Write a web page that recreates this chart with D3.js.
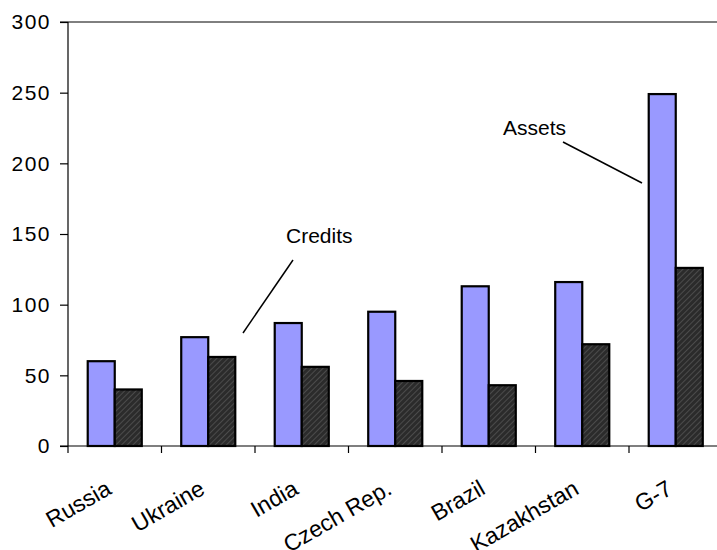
<!DOCTYPE html>
<html>
<head>
<meta charset="utf-8">
<script src="https://cdn.jsdelivr.net/npm/d3@7/dist/d3.min.js"></script>
<style>
  html, body { margin: 0; padding: 0; background: #fff; }
  svg { display: block; font-family: Arial, "Liberation Sans", sans-serif; }
</style>
</head>
<body>
<svg id="chart" width="717" height="550"></svg>
<script>
// Countries compared
const categories = ["Russia", "Ukraine", "India", "Czech Rep.", "Brazil", "Kazakhstan", "G-7"];
// Assets (light bars) and credits (hatched bars)
const assets  = [60, 77, 87, 95, 113, 116, 249];
const credits = [40, 63, 56, 46, 43, 72, 126];
const yTicks  = [0, 50, 100, 150, 200, 250, 300];
const seriesNames = ["Assets", "Credits"];

(function drawChart() {
  const svg = d3.select("#chart");
  const plotLeft = 68, plotTop = 22, plotBottom = 446, step = 93.5;
  const plotRight = plotLeft + step * categories.length;

  const y = d3.scaleLinear().domain([0, 300]).range([plotBottom, plotTop]);
  const x = d3.scaleBand().domain(categories).range([plotLeft, plotRight]).padding(0);
  const xs = d3.scaleBand().domain(seriesNames).range([0, x.bandwidth()])
    .paddingInner(0).paddingOuter(0.73);

  // hatch pattern for the credits bars
  const defs = svg.append("defs");
  const pat = defs.append("pattern")
    .attr("id", "hatch").attr("patternUnits", "userSpaceOnUse")
    .attr("width", 4).attr("height", 4)
    .attr("patternTransform", "rotate(45)");
  pat.append("rect").attr("width", 4).attr("height", 4).attr("fill", "#2b2b2b");
  pat.append("line").attr("x1", 0).attr("y1", 0).attr("x2", 0).attr("y2", 4)
    .attr("stroke", "#595959").attr("stroke-width", 1.4);

  // top border of plot area
  svg.append("line")
    .attr("x1", plotLeft - 8).attr("x2", 717).attr("y1", y(300)).attr("y2", y(300))
    .attr("stroke", "#000").attr("stroke-width", 1);

  // bars
  const rows = categories.map((c, i) => ({ c, vals: [assets[i], credits[i]] }));
  const groups = svg.append("g").selectAll("g").data(rows).join("g")
    .attr("transform", d => `translate(${x(d.c)},0)`);
  groups.selectAll("rect")
    .data(d => d.vals.map((v, j) => ({ s: seriesNames[j], v })))
    .join("rect")
    .attr("x", d => xs(d.s))
    .attr("width", xs.bandwidth())
    .attr("y", d => y(d.v))
    .attr("height", d => y(0) - y(d.v))
    .attr("fill", d => d.s === "Assets" ? "#9999ff" : "url(#hatch)")
    .attr("stroke", "#000").attr("stroke-width", 2.2);

  // y axis
  const yAxis = svg.append("g").attr("transform", `translate(${plotLeft},0)`)
    .call(d3.axisLeft(y).tickValues(yTicks).tickSize(8).tickPadding(9).tickFormat(d3.format("d")));
  yAxis.select(".domain").attr("d", `M0,${y(300)}V${plotBottom + 7}`).attr("stroke-width", 1.2);
  yAxis.selectAll(".tick line").attr("stroke-width", 1.2);
  yAxis.selectAll(".tick text").attr("font-size", 21).attr("letter-spacing", 1.5)
    .attr("font-family", "Arial, 'Liberation Sans', sans-serif").attr("fill", "#000");

  // x axis line and ticks at category boundaries
  svg.append("line")
    .attr("x1", plotLeft - 8).attr("x2", 717).attr("y1", plotBottom).attr("y2", plotBottom)
    .attr("stroke", "#000").attr("stroke-width", 1.2);
  svg.append("g").selectAll("line").data(categories.slice(1)).join("line")
    .attr("x1", d => x(d)).attr("x2", d => x(d))
    .attr("y1", plotBottom).attr("y2", plotBottom + 7)
    .attr("stroke", "#000").attr("stroke-width", 1.2);

  // rotated category labels
  svg.append("g").selectAll("text").data(categories).join("text")
    .attr("transform", d => `translate(${x(d) + x.bandwidth() / 2 - 2},${plotBottom + 47}) rotate(-30)`)
    .attr("text-anchor", "end")
    .attr("font-size", 23)
    .attr("fill", "#000")
    .text(d => d);

  // series callouts
  svg.append("text").attr("x", 503).attr("y", 135).attr("font-size", 21).text("Assets");
  svg.append("line").attr("x1", 563).attr("y1", 142).attr("x2", 642).attr("y2", 183)
    .attr("stroke", "#000").attr("stroke-width", 1.5);
  svg.append("text").attr("x", 286).attr("y", 243).attr("font-size", 21).text("Credits");
  svg.append("line").attr("x1", 293).attr("y1", 260).attr("x2", 243).attr("y2", 333)
    .attr("stroke", "#000").attr("stroke-width", 1.5);
})();
</script>
</body>
</html>
